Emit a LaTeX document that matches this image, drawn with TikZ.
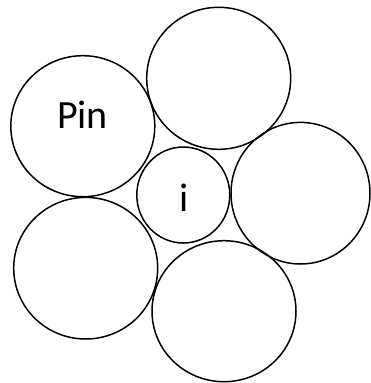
\documentclass[tikz,border=0pt]{standalone}
\usepackage{fontspec}
\setmainfont{Carlito}
\begin{document}
\begin{tikzpicture}[x=1pt,y=-1pt,
  ring/.style={draw=black,line width=1.5pt},
  lbl/.style={font=\fontsize{40}{40}\selectfont,inner sep=0pt,anchor=base}]
\useasboundingbox (0,0) rectangle (370,383);
\draw[ring] (218.7,78.3) ellipse [x radius=72,y radius=71];
\draw[ring] (82.8,126.2) ellipse [x radius=72,y radius=70.5];
\draw[ring] (183.3,195) ellipse [x radius=46.5,y radius=48];
\draw[ring] (300.5,193.2) ellipse [x radius=69.5,y radius=70.8];
\draw[ring] (85.7,268.2) ellipse [x radius=72,y radius=70.8];
\draw[ring] (224,311.2) ellipse [x radius=72,y radius=70.5];
\node[lbl] (pin) at (82.5,128) {Pin};
\node[lbl] (i) at (184,211.5) {i};
\end{tikzpicture}
\end{document}
